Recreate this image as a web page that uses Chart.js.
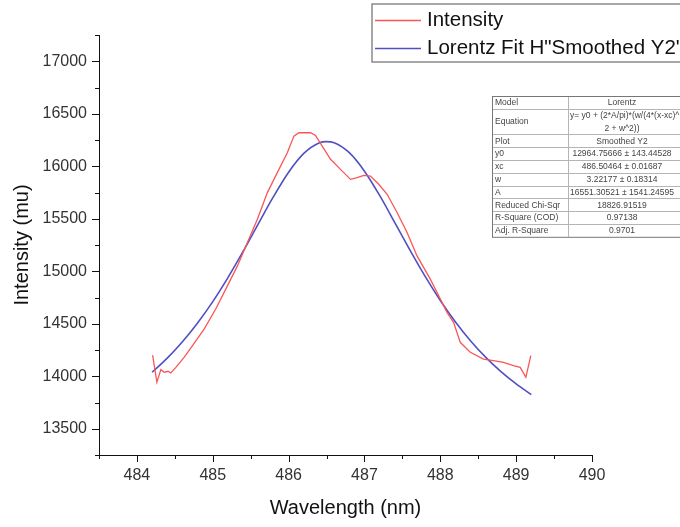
<!DOCTYPE html>
<html><head><meta charset="utf-8">
<script src="https://cdn.jsdelivr.net/npm/chart.js@4.4.1/dist/chart.umd.min.js"></script>
<style>html,body{margin:0;padding:0;background:#fff;} #wrap{width:680px;height:527px;position:relative;overflow:hidden;}</style>
</head><body><div id="wrap"><canvas id="c" width="680" height="527"></canvas></div>
<script>
// ---- data ----
const intensityX = [484.207,484.263,484.316,484.359,484.41,484.447,484.513,484.622,484.733,484.886,485.039,485.193,485.325,485.457,485.588,485.72,485.851,485.983,486.07,486.136,486.289,486.355,486.443,486.553,486.684,486.816,486.904,486.991,487.079,487.188,487.299,487.43,487.562,487.693,487.868,488.0,488.088,488.175,488.263,488.395,488.57,488.701,488.833,488.964,489.053,489.128,489.193];
const intensityY = [14202,13943,14063,14038,14047,14031,14085,14180,14291,14449,14640,14861,15051,15274,15495,15749,15939,16129,16287,16319,16319,16294,16192,16066,15970,15875,15892,15913,15907,15828,15733,15559,15369,15146,14925,14735,14608,14513,14323,14228,14164,14148,14133,14101,14085,13990,14196];
const fitX = [484.2,484.4,484.6,484.8,485.0,485.2,485.4,485.6,485.8,486.0,486.2,486.4,486.5,486.6,486.8,487.0,487.2,487.4,487.6,487.8,488.0,488.2,488.4,488.6,488.8,489.0,489.2];
const fitY = [14038,14173,14329,14508,14711,14940,15189,15451,15710,15943,16122,16222,16235,16224,16129,15953,15722,15463,15201,14951,14722,14517,14336,14180,14044,13927,13825];
const xTickLabels = [484,485,486,487,488,489,490];
const yTickLabels = [13500,14000,14500,15000,15500,16000,16500,17000];
const seriesNames = ['Intensity', 'Lorentz Fit H"Smoothed Y2\''];
const tableLabels = ['Model','Equation','Plot','y0','xc','w','A','Reduced Chi-Sqr','R-Square (COD)','Adj. R-Square'];
const tableValues = ['Lorentz','y= y0 + (2*A/pi)*(w/(4*(x-xc)^\n2 + w^2))','Smoothed Y2','12964.75666 \u00b1 143.44528','486.50464 \u00b1 0.01687','3.22177 \u00b1 0.18314','16551.30521 \u00b1 1541.24595','18826.91519','0.97138','0.9701'];

const FONT = '"Liberation Sans", Arial, sans-serif';

const tickPlugin = {
  id: 'axisTicks',
  afterDraw(chart) {
    const ctx = chart.ctx, xs = chart.scales.x, ys = chart.scales.y;
    ctx.save();
    ctx.strokeStyle = '#111'; ctx.lineWidth = 1;
    xs.ticks.forEach(t => {
      const px = Math.round(xs.getPixelForValue(t.value)) + 0.5;
      const len = xTickLabels.includes(t.value) ? 7 : 4;
      ctx.beginPath(); ctx.moveTo(px, xs.top); ctx.lineTo(px, xs.top + len); ctx.stroke();
    });
    ys.ticks.forEach(t => {
      const py = Math.round(ys.getPixelForValue(t.value)) + 0.5;
      const len = yTickLabels.includes(t.value) ? 7 : 4;
      ctx.beginPath(); ctx.moveTo(ys.right, py); ctx.lineTo(ys.right - len, py); ctx.stroke();
    });
    ctx.restore();
  }
};

const legendPlugin = {
  id: 'boxLegend',
  afterDraw(chart) {
    const ctx = chart.ctx;
    ctx.save();
    ctx.strokeStyle = '#8a8a8a'; ctx.lineWidth = 1.5;
    ctx.strokeRect(372, 4, 330, 58);
    chart.data.datasets.forEach((ds, i) => {
      const y = 20 + i * 28;
      ctx.strokeStyle = ds.borderColor; ctx.lineWidth = 1.3;
      ctx.beginPath(); ctx.moveTo(375, y + 0.5); ctx.lineTo(421, y + 0.5); ctx.stroke();
      ctx.fillStyle = '#111'; ctx.font = '20.5px ' + FONT; ctx.textBaseline = 'middle'; ctx.textAlign = 'left';
      ctx.fillText(ds.label, 427, y);
    });
    ctx.restore();
  }
};

const tablePlugin = {
  id: 'fitTable',
  afterDraw(chart) {
    const ctx = chart.ctx;
    const left = 492, mid = 568, right = 700, top = 96, rh = 12.8;
    const heights = tableLabels.map((l, i) => tableValues[i].includes('\n') ? rh * 2 : rh);
    const total = heights.reduce((a, b) => a + b, 0);
    ctx.save();
    ctx.fillStyle = '#fff'; ctx.fillRect(left, top, right - left, total);
    ctx.strokeStyle = '#b5b5b5'; ctx.lineWidth = 1;
    let y = top;
    ctx.font = '8.5px ' + FONT; ctx.fillStyle = '#444'; ctx.textBaseline = 'middle';
    heights.forEach((h, i) => {
      if (i > 0) { ctx.beginPath(); ctx.moveTo(left, Math.round(y) + 0.5); ctx.lineTo(right, Math.round(y) + 0.5); ctx.stroke(); }
      ctx.textAlign = 'left';
      ctx.fillText(tableLabels[i], left + 3, y + h / 2 + 0.5);
      const lines = tableValues[i].split('\n');
      lines.forEach((ln, k) => {
        const w = ctx.measureText(ln).width;
        ctx.save();
        ctx.beginPath(); ctx.rect(mid + 1, y, right - mid, h); ctx.clip();
        if (w > 108) { ctx.textAlign = 'left'; ctx.fillText(ln, mid + 2, y + rh / 2 + k * rh + 0.5); }
        else { ctx.textAlign = 'center'; ctx.fillText(ln, 622, y + rh / 2 + k * rh + 0.5); }
        ctx.restore();
      });
      y += h;
    });
    ctx.beginPath(); ctx.moveTo(mid + 0.5, top); ctx.lineTo(mid + 0.5, top + total); ctx.stroke();
    ctx.strokeStyle = '#777';
    ctx.strokeRect(left + 0.5, top + 0.5, right - left, total);
    ctx.restore();
  }
};

new Chart(document.getElementById('c'), {
  type: 'scatter',
  data: {
    datasets: [
      { label: seriesNames[0], data: intensityX.map((x, i) => ({x, y: intensityY[i]})), showLine: true,
        borderColor: 'rgb(250,85,85)', borderWidth: 1.3, pointRadius: 0, tension: 0 },
      { label: seriesNames[1], data: fitX.map((x, i) => ({x, y: fitY[i]})), showLine: true,
        borderColor: 'rgb(80,80,195)', borderWidth: 1.6, pointRadius: 0, cubicInterpolationMode: 'monotone' }
    ]
  },
  options: {
    responsive: false, animation: false, devicePixelRatio: 1,
    layout: { padding: { left: 0, top: 35, right: 88, bottom: 0 } },
    plugins: { legend: { display: false }, tooltip: { enabled: false } },
    scales: {
      x: {
        type: 'linear', min: 483.5, max: 490,
        afterFit(s) { s.height = 72; },
        ticks: { stepSize: 0.5, padding: 11, color: '#333', font: { family: FONT, size: 16 },
          callback: v => xTickLabels.includes(v) ? String(v) : '' , maxRotation: 0, autoSkip: false },
        grid: { drawOnChartArea: false, drawTicks: false },
        border: { display: true, color: '#111', width: 1 },
        title: { display: true, text: 'Wavelength (nm)', color: '#111', font: { family: FONT, size: 20 }, padding: { top: 0, bottom: 7 } }
      },
      y: {
        type: 'linear', min: 13250, max: 17250,
        afterFit(s) { s.width = 99; },
        ticks: { stepSize: 250, padding: 12, color: '#333', font: { family: FONT, size: 16 },
          callback: v => yTickLabels.includes(v) ? String(v) : '', autoSkip: false },
        grid: { drawOnChartArea: false, drawTicks: false },
        border: { display: true, color: '#111', width: 1 },
        title: { display: true, text: 'Intensity (mu)', color: '#111', font: { family: FONT, size: 20 }, padding: { top: 10, bottom: 0 } }
      }
    }
  },
  plugins: [tickPlugin, legendPlugin, tablePlugin]
});
</script>
</body></html>
